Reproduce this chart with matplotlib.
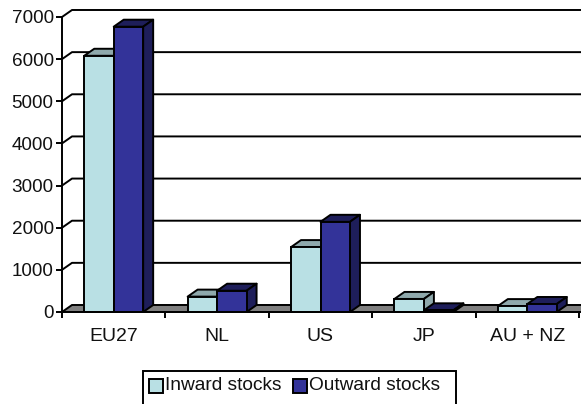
import matplotlib
matplotlib.use('Agg')
import matplotlib.pyplot as plt
from matplotlib.patches import Polygon, Rectangle

categories = ['EU27', 'NL', 'US', 'JP', 'AU + NZ']
inward = [6080, 365, 1540, 310, 140]
outward = [6770, 505, 2140, 40, 190]
yticks = [0, 1000, 2000, 3000, 4000, 5000, 6000, 7000]

plt.rcParams['font.family'] = ['Liberation Sans', 'DejaVu Sans']

W, H = 581, 404
LW = 1.4
DX = 10 / 103.4   # depth of the fake 3D, x in category units
DY = 7 / 42.1 * 1000   # same, y in value units
BAR = 0.285
GAP = (1 - 2 * BAR) / 2

fig = plt.figure(figsize=(W / 100, H / 100), dpi=100)
ax = fig.add_axes([62 / W, (H - 312) / H, 517 / W, 295 / H])
ax.set_xlim(0, 5)
ax.set_ylim(0, 7000)


def draw_bar(x, val, front, top, side, z):
    ax.bar(x, val, BAR, align='edge', color=front, edgecolor='black', linewidth=LW,
           zorder=z + 0.2, clip_on=False)
    ax.add_patch(Polygon([(x, val), (x + DX, val + DY), (x + BAR + DX, val + DY), (x + BAR, val)],
                         facecolor=top, edgecolor='black', linewidth=LW, joinstyle='round',
                         zorder=z, clip_on=False))
    ax.add_patch(Polygon([(x + BAR, 0), (x + BAR + DX, DY), (x + BAR + DX, val + DY), (x + BAR, val)],
                         facecolor=side, edgecolor='black', linewidth=LW, joinstyle='round',
                         zorder=z, clip_on=False))


# back wall lines
for t in yticks[1:]:
    ax.plot([0, DX, 5.2], [t, t + DY, t + DY], color='black', lw=LW, zorder=1,
            clip_on=False, solid_joinstyle='round')

# floor
ax.add_patch(Polygon([(0, 0), (DX, DY), (5.2, DY), (5.2, 0)], facecolor='#808080',
                     edgecolor='black', linewidth=LW, zorder=1.5, clip_on=False))

for i in range(len(categories)):
    draw_bar(i + GAP, inward[i], '#B9E0E4', '#8FA9AC', '#8FA9AC', 2 + i)
    draw_bar(i + GAP + BAR, outward[i], '#333399', '#1E1E5A', '#1E1E5A', 2.5 + i)

for s in ['top', 'right']:
    ax.spines[s].set_visible(False)
for s in ['left', 'bottom']:
    ax.spines[s].set_linewidth(LW)
    ax.spines[s].set_zorder(20)

ax.set_yticks(yticks)
ax.set_xticks(range(6))
ax.set_xticklabels([])
ax.set_xticks([i + 0.5 for i in range(5)], minor=True)
ax.set_xticklabels(categories, minor=True)
ax.tick_params(axis='x', which='major', length=4, width=LW, direction='out')
ax.tick_params(axis='x', which='minor', length=0, pad=11.5, labelsize=14, labelcolor='#111111')
ax.tick_params(axis='y', length=4, width=LW, pad=2, labelsize=13.6, labelcolor='#111111')

# legend box runs off the bottom of the picture
fig.add_artist(Rectangle((142.5 / W, -0.05), 313.5 / W, (H - 370.5) / H + 0.05, transform=fig.transFigure,
                         facecolor='white', edgecolor='black', linewidth=LW))
for x0, face, lab, tx in [(149, '#B9E0E4', 'Inward stocks', 165), (293, '#333399', 'Outward stocks', 309)]:
    fig.add_artist(Rectangle((x0 / W, (H - 393) / H), 14 / W, 14 / H, transform=fig.transFigure,
                             facecolor=face, edgecolor='black', linewidth=LW))
    fig.text(tx / W, (H - 385) / H, lab, fontsize=13.8, va='center', ha='left', color='#111111')

fig.savefig('out.png', dpi=100)
